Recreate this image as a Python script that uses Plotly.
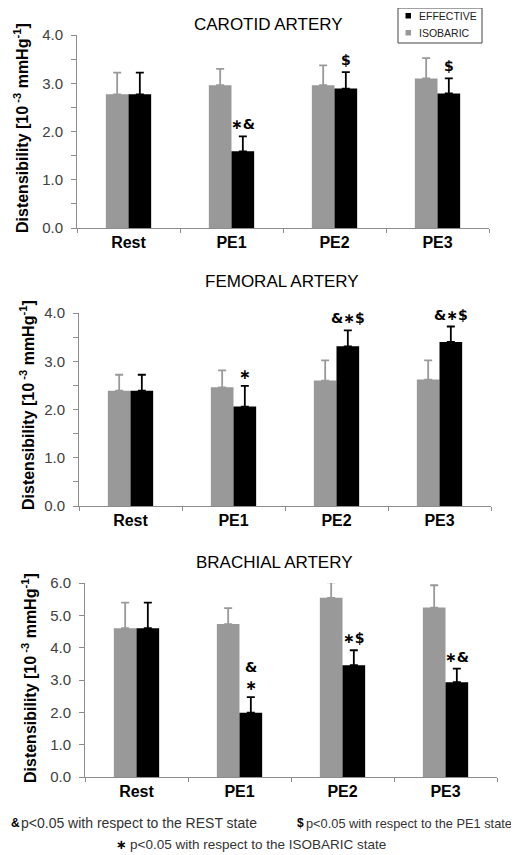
import plotly.graph_objects as go

# The page body has a default 8px margin, so the figure is drawn at (8, 8).
OFF = 8
W, H = 519 - OFF, 855 - OFF

categories = ["Rest", "PE1", "PE2", "PE3"]

# Carotid
carotid_iso = [2.77, 2.96, 2.96, 3.10]
carotid_iso_top = [3.22, 3.30, 3.37, 3.52]
carotid_eff = [2.77, 1.59, 2.89, 2.79]
carotid_eff_top = [3.22, 1.90, 3.23, 3.10]
carotid_marks = ["", "∗&", "$", "$"]

# Femoral
femoral_iso = [2.39, 2.46, 2.60, 2.62]
femoral_iso_top = [2.72, 2.81, 3.02, 3.02]
femoral_eff = [2.39, 2.06, 3.31, 3.40]
femoral_eff_top = [2.72, 2.49, 3.64, 3.72]
femoral_marks = ["", "∗", "&∗$", "&∗$"]

# Brachial
brachial_iso = [4.60, 4.73, 5.54, 5.24]
brachial_iso_top = [5.39, 5.22, 6.02, 5.93]
brachial_eff = [4.60, 1.99, 3.46, 2.93]
brachial_eff_top = [5.39, 2.47, 3.92, 3.35]
brachial_marks = ["", "&<br>∗", "∗$", "∗&"]

titles = ["CAROTID ARTERY", "FEMORAL ARTERY", "BRACHIAL ARTERY"]
ymax = [4, 4, 6]
legend_names = ["EFFECTIVE", "ISOBARIC"]

GRAY = "#999999"
AXIS = "#8c8c8c"
FONT = "Liberation Sans, Arial, sans-serif"

# pixel layout (window coords) of each panel: (x0, x1, ytop, ybottom)
panels_px = [(77, 489, 35, 228), (79, 491, 313, 506), (85, 497, 583, 777)]

data_sets = [
    (carotid_iso, carotid_iso_top, carotid_eff, carotid_eff_top, carotid_marks),
    (femoral_iso, femoral_iso_top, femoral_eff, femoral_eff_top, femoral_marks),
    (brachial_iso, brachial_iso_top, brachial_eff, brachial_eff_top, brachial_marks),
]

def px(xp, yp):
    return (xp - OFF) / W, 1 - (yp - OFF) / H

fig = go.Figure()
annotations = []
shapes = []
layout = {}

for i, (iso, iso_top, eff, eff_top, marks) in enumerate(data_sets):
    n = i + 1
    xa = "x" if n == 1 else f"x{n}"
    ya = "y" if n == 1 else f"y{n}"
    fig.add_trace(go.Bar(
        x=categories, y=iso, name="ISOBARIC", marker=dict(color=GRAY, line=dict(width=0)),
        error_y=dict(type="data", symmetric=False, array=[t - v for t, v in zip(iso_top, iso)],
                     arrayminus=[0] * 4, color=GRAY, thickness=1.8, width=4),
        xaxis=xa, yaxis=ya, showlegend=False, cliponaxis=False,
    ))
    fig.add_trace(go.Bar(
        x=categories, y=eff, name="EFFECTIVE", marker=dict(color="#000000", line=dict(width=0)),
        error_y=dict(type="data", symmetric=False, array=[t - v for t, v in zip(eff_top, eff)],
                     arrayminus=[0] * 4, color="#000000", thickness=1.8, width=4),
        xaxis=xa, yaxis=ya, showlegend=False, cliponaxis=False,
    ))
    x0, x1, yt, yb = panels_px[i]
    dx0, dy0 = px(x0, yb)
    dx1, dy1 = px(x1, yt)
    xkey = "xaxis" if n == 1 else f"xaxis{n}"
    ykey = "yaxis" if n == 1 else f"yaxis{n}"
    layout[xkey] = dict(
        domain=[dx0, dx1], anchor=ya, range=[-0.5, 3.5], type="category",
        showline=True, linecolor=AXIS, linewidth=1, ticks="outside", tickson="boundaries",
        ticklen=4, tickcolor=AXIS, showgrid=False, automargin=False,
        tickfont=dict(family=FONT, size=16, color="#000000", weight="bold"),
        fixedrange=True,
    )
    ydict = dict(
        domain=[dy0, dy1], anchor=xa, range=[0, ymax[i]],
        showline=True, linecolor=AXIS, linewidth=1, ticks="outside", ticklen=5,
        tickcolor=AXIS, dtick=1, tickformat=".1f", showgrid=False, zeroline=False,
        tickfont=dict(family=FONT, size=15, color="#404040"), automargin=False,
        ticklabelstandoff=5,
    )
    if ymax[i] == 4:
        ydict["minor"] = dict(dtick=0.5, ticks="outside", ticklen=5, tickcolor=AXIS, showgrid=False)
    layout[ykey] = ydict

    # significance marks
    for c, m, top in zip(categories, marks, eff_top):
        if m:
            annotations.append(dict(
                x=c, y=top, xref=xa, yref=ya, text=f"<b>{m}</b>", showarrow=False,
                xshift=11, yanchor="bottom", yshift=2,
                font=dict(family="DejaVu Sans, sans-serif", size=14, color="#000000"),
            ))

# panel titles
title_pos = [(268, 24), (282, 281), (274, 562)]
for t, (tx, ty) in zip(titles, title_pos):
    ax, ay = px(tx, ty)
    annotations.append(dict(
        x=ax, y=ay, xref="paper", yref="paper", text=t, showarrow=False,
        xanchor="center", yanchor="middle", font=dict(family=FONT, size=17, color="#000000"),
    ))

# y-axis titles
ylab_pos = [(21, 128), (27, 405), (29, 678)]
for (lx, ly) in ylab_pos:
    ax, ay = px(lx, ly)
    annotations.append(dict(
        x=ax, y=ay, xref="paper", yref="paper",
        text="<b>Distensibility [10<sup> -3</sup> mmHg<sup>-1</sup>]</b>",
        showarrow=False, textangle=-90, xanchor="center", yanchor="middle",
        font=dict(family=FONT, size=16, color="#000000"),
    ))

# legend box (top panel)
x0b, y0b = px(398, 8)
x1b, y1b = px(482, 43)
shapes.append(dict(type="rect", xref="paper", yref="paper", x0=x0b, x1=x1b, y0=y1b, y1=y0b,
                   line=dict(color="#444444", width=1), fillcolor="white"))
for nm, col, cy in zip(legend_names, ["#000000", GRAY], [16, 33]):
    sx0, sy0 = px(405.5, cy - 3)
    sx1, sy1 = px(411, cy + 2.5)
    shapes.append(dict(type="rect", xref="paper", yref="paper", x0=sx0, x1=sx1, y0=sy1, y1=sy0,
                       line=dict(width=0), fillcolor=col))
    tx, ty = px(417, cy)
    annotations.append(dict(x=tx, y=ty, xref="paper", yref="paper", text=nm, showarrow=False,
                            xanchor="left", yanchor="middle",
                            font=dict(family=FONT, size=10.5, color="#222222")))

# footnotes
foot = [
    ("<b>&</b>", 10, 823, "#000000", 12),
    ("p&lt;0.05 with respect to the REST state", 20, 823, "#333333", 14),
    ("<b>$</b>", 296, 823, "#000000", 12),
    ("p&lt;0.05 with respect to the PE1 state", 305, 823, "#333333", 12.8),
    ("<b>∗</b>", 115, 844, "#000000", 13),
    ("p&lt;0.05 with respect to the ISOBARIC state", 129, 844, "#333333", 13.5),
]
for txt, fx, fy, col, sz in foot:
    ax, ay = px(fx, fy)
    annotations.append(dict(
        x=ax, y=ay, xref="paper", yref="paper", xanchor="left", yanchor="middle",
        showarrow=False, text=txt, xshift=-1,
        font=dict(family=FONT if "∗" not in txt else "DejaVu Sans, sans-serif", size=sz, color=col),
    ))

fig.update_layout(
    width=W, height=H, margin=dict(l=0, r=0, t=0, b=0),
    paper_bgcolor="white", plot_bgcolor="white",
    barmode="group", bargap=0.56, bargroupgap=0,
    annotations=annotations, shapes=shapes, showlegend=False,
    **layout,
)

fig.write_html("out.html")
